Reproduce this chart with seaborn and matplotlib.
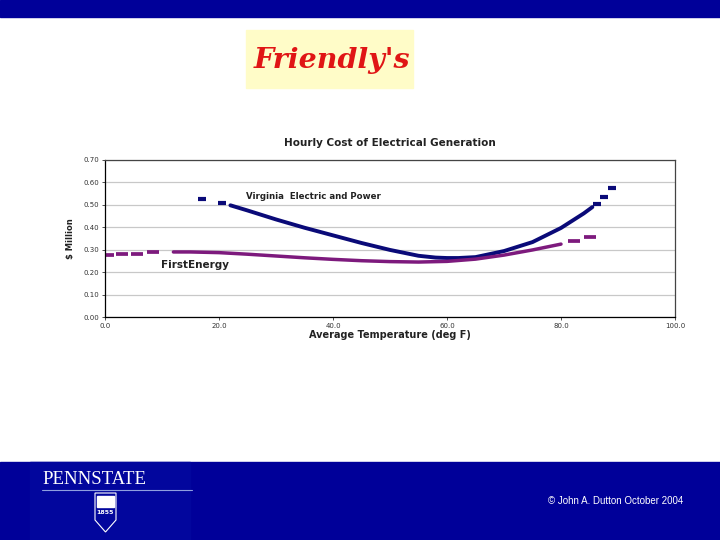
import numpy as np
import pandas as pd
import matplotlib
matplotlib.use("Agg")
import matplotlib.pyplot as plt
import seaborn as sns
from matplotlib.patches import Rectangle, Polygon

# Virginia Electric and Power - continuous part of the curve
va_temp = [22, 25, 30, 35, 40, 45, 50, 55, 58, 60, 62, 65, 70, 75, 80, 84, 85.5]
va_cost = [0.498, 0.475, 0.435, 0.398, 0.364, 0.330, 0.299, 0.273, 0.265, 0.263, 0.263,
           0.267, 0.294, 0.334, 0.397, 0.462, 0.49]
# sparse dashes at the ends
va_dash_temp = [17.0, 20.5, 86.3, 87.6, 89.0]
va_dash_cost = [0.525, 0.507, 0.505, 0.537, 0.575]

# FirstEnergy
fe_temp = [12, 15, 20, 25, 30, 35, 40, 45, 50, 55, 60, 65, 70, 75, 80]
fe_cost = [0.290, 0.290, 0.287, 0.280, 0.272, 0.264, 0.257, 0.251, 0.247, 0.245, 0.248,
           0.258, 0.276, 0.299, 0.325]
fe_dash_temp = [0.6, 2.9, 5.6, 8.4, 82.3, 85.0]
fe_dash_cost = [0.275, 0.279, 0.283, 0.288, 0.338, 0.358]

x_ticks = [0, 20, 40, 60, 80, 100]
y_ticks = [0.0, 0.1, 0.2, 0.3, 0.4, 0.5, 0.6, 0.7]

va_col = "#0a0a78"
fe_col = "#7d1a7d"
slide_blue = "#000099"

sns.set_theme(style="white")
plt.rcParams['font.family'] = ['DejaVu Sans']

fig = plt.figure(figsize=(7.2, 5.4), dpi=100)
fig.patch.set_facecolor("white")

# slide bands
fig.patches.append(Rectangle((0, 1 - 17 / 540), 1, 17 / 540, transform=fig.transFigure,
                             color=slide_blue, zorder=0))
fig.patches.append(Rectangle((0, 0), 1, 78 / 540, transform=fig.transFigure,
                             color=slide_blue, zorder=0))
fig.patches.append(Rectangle((30 / 720, 0), 160 / 720, 78 / 540, transform=fig.transFigure,
                             color="#02069d", zorder=0))

# Friendly's logo
fig.patches.append(Rectangle((246 / 720, 1 - 88 / 540), 167 / 720, 58 / 540,
                             transform=fig.transFigure, color="#fffcc8", zorder=0))
fig.text(332 / 720, 1 - 60 / 540, "Friendly's", color="#e01515", fontsize=20.5,
         fontweight="bold", fontstyle="italic", family=["DejaVu Serif"],
         ha="center", va="center")

# Penn State logo
fig.text(42 / 720, 1 - 480 / 540, "PENNSTATE", color="white", fontsize=13.5,
         family=["Liberation Serif"], ha="left", va="center")
fig.lines.append(plt.Line2D([42 / 720, 192 / 720], [1 - 490 / 540, 1 - 490 / 540],
                            transform=fig.transFigure, color="#8f9fe0", lw=0.8))
shield = [(95, 493), (116, 493), (116, 520), (105.5, 532), (95, 520)]
fig.patches.append(Polygon([(x / 720, 1 - y / 540) for x, y in shield], closed=True,
                           transform=fig.transFigure, fill=False, edgecolor="white", lw=0.8))
fig.patches.append(Rectangle((97 / 720, 1 - 507 / 540), 17 / 720, 11 / 540,
                             transform=fig.transFigure, color="white"))
fig.text(105.5 / 720, 1 - 512 / 540, "1855", color="white", fontsize=4.5,
         fontweight="bold", ha="center", va="center")
fig.text(548 / 720, 1 - 501 / 540, "\u00a9 John A. Dutton October 2004", color="white",
         fontsize=7, family=["Liberation Sans"], ha="left", va="center")

# chart
ax = fig.add_axes([105 / 720, 1 - 317 / 540, 570 / 720, 157 / 540])
sns.lineplot(x=va_temp, y=va_cost, ax=ax, color=va_col, lw=2.8, sort=False)
sns.lineplot(x=fe_temp, y=fe_cost, ax=ax, color=fe_col, lw=2.5, sort=False)
ax.plot(va_dash_temp, va_dash_cost, ls="none", marker="_", ms=6, mew=3, color=va_col)
ax.plot(fe_dash_temp, fe_dash_cost, ls="none", marker="_", ms=8, mew=2.7, color=fe_col)

ax.set_xlim(0, 100)
ax.set_ylim(0, 0.7)
ax.set_xticks(x_ticks)
ax.set_xticklabels([f"{t:.1f}" for t in x_ticks])
ax.set_yticks(y_ticks)
ax.set_yticklabels([f"{t:.2f}" for t in y_ticks])
ax.tick_params(axis="both", labelsize=5, colors="#333333", length=2, width=0.6, pad=2,
               left=True, bottom=True)
ax.yaxis.grid(True, color="#c8c8c8", lw=0.9)
for s in ax.spines.values():
    s.set_color("#444444")
    s.set_linewidth(0.9)
ax.spines["left"].set_color("black")
ax.spines["bottom"].set_color("black")

ax.set_title("Hourly Cost of Electrical Generation", fontsize=7.5, fontweight="bold",
             color="#222222", pad=10)
ax.set_xlabel("Average Temperature (deg F)", fontsize=7, fontweight="bold",
              color="#222222", labelpad=1)
ax.set_ylabel("$ Million", fontsize=6, fontweight="bold", color="#222222", labelpad=6)

ax.text(24.7, 0.539, "Virginia  Electric and Power", fontsize=6.2, fontweight="bold",
        color="#222222", va="center", ha="left")
ax.text(9.8, 0.232, "FirstEnergy", fontsize=7.5, fontweight="bold",
        color="#222222", va="center", ha="left")

fig.savefig("out.png", dpi=100)
